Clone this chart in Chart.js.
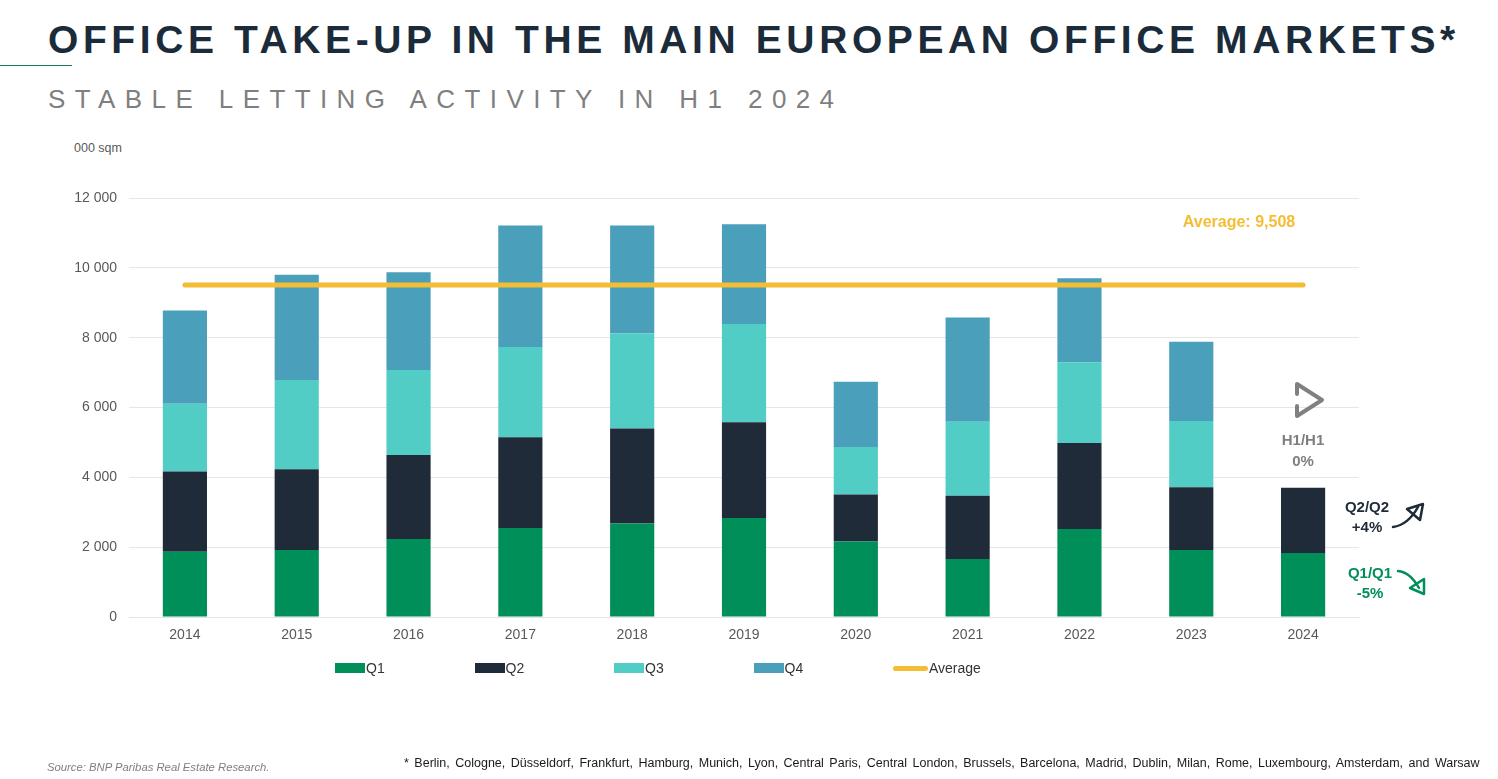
<!DOCTYPE html>
<html>
<head>
<meta charset="utf-8">
<script src="https://cdn.jsdelivr.net/npm/chart.js@4.4.1/dist/chart.umd.min.js"></script>
<style>
    html, body { margin: 0; padding: 0; background: #fff; }
    body { width: 1498px; height: 779px; position: relative; overflow: hidden; font-family: "Liberation Sans", Arial, sans-serif; }
    .abs { position: absolute; white-space: nowrap; line-height: 1; }
    #title { left: 48px; top: 20px; font-size: 39px; font-weight: bold; letter-spacing: 4.6px; color: #1c2b3a; }
    #subtitle { left: 48px; top: 86px; font-size: 26px; letter-spacing: 9.4px; color: #7f7f7f; }
    #rule { position: absolute; left: 0; top: 65px; width: 72px; height: 1px; background: #1b7d5e; }
    #unit { left: 74px; top: 142px; font-size: 12.5px; color: #595959; }
    #legend { position: absolute; left: 335px; top: 660px; display: flex; }
    .item { width: 139.5px; display: flex; align-items: center; font-size: 14px; color: #333; }
    .swatch { width: 30px; height: 10px; margin-right: 1px; }
    .swatch.line { height: 5px; border-radius: 3px; width: 35px; }
    #source { left: 47px; top: 762px; font-size: 11.3px; font-style: italic; color: #7f7f7f; }
    #note { left: 404px; top: 757px; font-size: 12.5px; color: #1a1a1a; word-spacing: 2px; }
    #wrap { position: absolute; left: 0; top: 0; width: 1498px; height: 779px; }
</style>
</head>
<body>
<div class="abs" id="title">OFFICE TAKE-UP IN THE MAIN EUROPEAN OFFICE MARKETS*</div>
<div id="rule"></div>
<div class="abs" id="subtitle">STABLE LETTING ACTIVITY IN H1 2024</div>
<div class="abs" id="unit">000 sqm</div>
<div id="wrap"><canvas id="grafico"></canvas></div>
<div id="legend"></div>
<div class="abs" id="source">Source: BNP Paribas Real Estate Research.</div>
<div class="abs" id="note">* Berlin, Cologne, Düsseldorf, Frankfurt, Hamburg, Munich, Lyon, Central Paris, Central London, Brussels, Barcelona, Madrid, Dublin, Milan, Rome, Luxembourg, Amsterdam, and Warsaw</div>

<script>
// Dados (000 sqm)
var anos = ['2014', '2015', '2016', '2017', '2018', '2019', '2020', '2021', '2022', '2023', '2024'];
var q1 = [1870, 1920, 2235, 2550, 2675, 2835, 2160, 1660, 2520, 1920, 1835];
var q2 = [2295, 2310, 2405, 2600, 2720, 2740, 1345, 1815, 2465, 1795, 1870];
var q3 = [1940, 2560, 2435, 2585, 2730, 2815, 1365, 2120, 2310, 1900, null];
var q4 = [2675, 3010, 2800, 3475, 3085, 2855, 1870, 2980, 2405, 2270, null];
var media = [9508, 9508, 9508, 9508, 9508, 9508, 9508, 9508, 9508, 9508, 9508];
var mediaTexto = 'Average: 9,508';
var yTicks = [0, 2000, 4000, 6000, 8000, 10000, 12000];

var nomes = ['Q1', 'Q2', 'Q3', 'Q4', 'Average'];
var cores = ['#008f58', '#1f2b38', '#52cdc5', '#4a9fba', '#f5bd33'];

// Legenda em HTML
var legenda = document.getElementById('legend');
nomes.forEach(function (nome, i) {
    var item = document.createElement('div');
    item.className = 'item';
    var sw = document.createElement('span');
    sw.className = 'swatch' + (i === 4 ? ' line' : '');
    sw.style.background = cores[i];
    item.appendChild(sw);
    item.appendChild(document.createTextNode(nome));
    legenda.appendChild(item);
});

// Anotações à direita
var anotacoes = {
    id: 'anotacoes',
    afterDraw: function (chart) {
        var ctx = chart.ctx;
        ctx.save();
        ctx.textAlign = 'center';
        ctx.textBaseline = 'middle';

        ctx.fillStyle = '#f5bd33';
        ctx.font = 'bold 16px "Liberation Sans", Arial, sans-serif';
        ctx.fillText(mediaTexto, 1239, 223);

        ctx.font = 'bold 15px "Liberation Sans", Arial, sans-serif';
        ctx.fillStyle = '#7f7f7f';
        ctx.fillText('H1/H1', 1303, 441);
        ctx.fillText('0%', 1303, 462);
        ctx.fillStyle = '#1f2b38';
        ctx.fillText('Q2/Q2', 1367, 508);
        ctx.fillText('+4%', 1367, 528);
        ctx.fillStyle = '#008f58';
        ctx.fillText('Q1/Q1', 1370, 574);
        ctx.fillText('-5%', 1370, 594);

        ctx.lineJoin = 'round';
        ctx.lineCap = 'round';

        // seta cinza
        ctx.strokeStyle = '#808080';
        ctx.lineWidth = 4;
        ctx.beginPath();
        ctx.moveTo(1297, 394);
        ctx.lineTo(1297, 384);
        ctx.lineTo(1322, 400);
        ctx.lineTo(1297, 416);
        ctx.lineTo(1297, 406);
        ctx.stroke();

        // seta Q2
        ctx.strokeStyle = '#1f2b38';
        ctx.lineWidth = 2.5;
        ctx.beginPath();
        ctx.moveTo(1393, 527);
        ctx.quadraticCurveTo(1408, 525, 1418, 507);
        ctx.stroke();
        ctx.beginPath();
        ctx.moveTo(1407, 509);
        ctx.lineTo(1423, 504);
        ctx.lineTo(1420, 520);
        ctx.closePath();
        ctx.stroke();

        // seta Q1
        ctx.strokeStyle = '#008f58';
        ctx.beginPath();
        ctx.moveTo(1398, 571);
        ctx.quadraticCurveTo(1410, 572, 1419, 588);
        ctx.stroke();
        ctx.beginPath();
        ctx.moveTo(1410, 588);
        ctx.lineTo(1424, 594);
        ctx.lineTo(1424, 579);
        ctx.closePath();
        ctx.stroke();

        ctx.restore();
    }
};

Chart.defaults.font.family = '"Liberation Sans", Arial, sans-serif';
Chart.defaults.font.size = 14;
Chart.defaults.color = '#595959';

var ctx = document.getElementById('grafico').getContext('2d');
var grafico = new Chart(ctx, {
    type: 'bar',
    data: {
        labels: anos,
        datasets: [
            { label: nomes[0], data: q1, backgroundColor: cores[0], order: 1 },
            { label: nomes[1], data: q2, backgroundColor: cores[1], order: 1 },
            { label: nomes[2], data: q3, backgroundColor: cores[2], order: 1 },
            { label: nomes[3], data: q4, backgroundColor: cores[3], order: 1 },
            {
                type: 'line', label: nomes[4], data: media,
                borderColor: cores[4], backgroundColor: cores[4],
                borderWidth: 5, borderCapStyle: 'round',
                pointRadius: 0, order: 0
            }
        ]
    },
    options: {
        responsive: true,
        maintainAspectRatio: false,
        animation: false,
        layout: { padding: { left: 0, right: 139, top: 198, bottom: 122 } },
        datasets: { bar: { categoryPercentage: 1, barPercentage: 0.395 } },
        plugins: { legend: { display: false }, tooltip: { enabled: false } },
        scales: {
            x: {
                stacked: true,
                grid: { display: false },
                border: { display: true, color: '#e3e3e3' },
                ticks: { padding: 2, color: '#595959' },
                afterFit: function (s) { s.height = 40; }
            },
            y: {
                stacked: true,
                min: 0,
                max: 12000,
                afterBuildTicks: function (s) {
                    s.ticks = yTicks.map(function (v) { return { value: v }; });
                },
                grid: { color: '#e6e6e6', drawTicks: false },
                border: { display: false },
                ticks: {
                    padding: 12,
                    color: '#595959',
                    callback: function (v) {
                        return String(v).replace(/\B(?=(\d{3})+(?!\d))/g, ' ');
                    }
                },
                afterFit: function (s) { s.width = 129; }
            }
        }
    },
    plugins: [anotacoes]
});
</script>
</body>
</html>
